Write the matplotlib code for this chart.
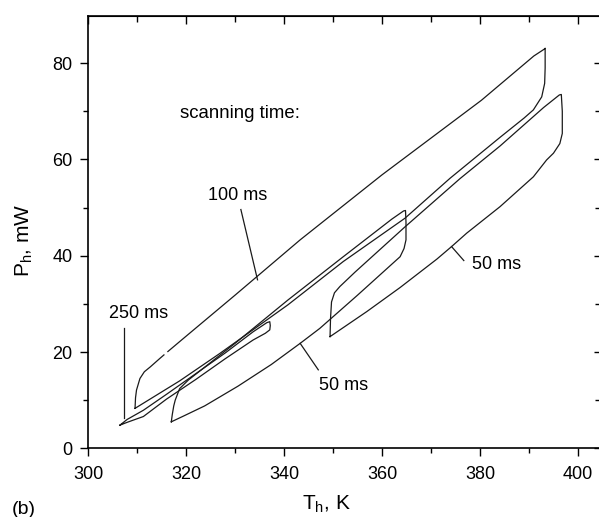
import numpy as np
import matplotlib
matplotlib.use("Agg")
import matplotlib.pyplot as plt
from matplotlib.ticker import MultipleLocator

nan = np.nan

# 100 ms loop (gap in the heating branch as in the original)
a_T = [309.6, 309.7, 309.9, 310.6, 311.5, 312.7, 314.7, 315.5, nan, 316.3, 319.1, 330.0, 343.3,
       360.0, 380.3, 391.0, 393.1, 393.3, 393.3, 393.2, 392.6, 390.9, 389.0, 384.1, 373.9,
       364.7, 352.1, 340.8, 326.9, 318.7, 309.6]
a_P = [8.3, 10.5, 12.1, 14.5, 15.9, 16.9, 18.7, 19.4, nan, 20.1, 22.5, 31.8, 43.3,
       56.8, 72.3, 81.5, 82.9, 83.1, 79.0, 75.8, 73.0, 70.3, 68.6, 64.6, 56.1,
       47.8, 38.8, 29.8, 19.7, 14.0, 8.3]

# 250 ms loop
b_T = [306.5, 308.0, 311.3, 316.0, 322.0, 328.0, 333.7, 336.5, 337.1, 337.2, 337.1, 336.2,
       333.7, 328.0, 322.0, 316.0, 311.3, 308.0, 306.5]
b_P = [4.8, 6.0, 7.9, 11.2, 15.5, 19.8, 24.2, 26.1, 26.3, 25.5, 24.6, 23.9,
       22.5, 18.6, 14.3, 10.2, 6.6, 5.4, 4.8]

# 50 ms loop, lower
c_T = [317.0, 317.2, 317.5, 317.8, 318.7, 320.5, 330.0, 340.8, 352.1, 362.0, 364.4, 364.8,
       364.9, 364.9, 364.5, 363.7, 355.0, 347.3, 343.3, 337.4, 330.6, 323.8, 319.5, 317.0]
c_P = [5.5, 7.0, 8.8, 10.0, 12.4, 14.2, 21.8, 30.8, 39.8, 47.6, 49.3, 49.4,
       47.0, 43.3, 41.5, 39.8, 31.8, 24.9, 21.8, 17.4, 12.9, 8.8, 6.7, 5.5]

# 50 ms loop, right
d_T = [349.4, 349.5, 349.7, 350.3, 351.4, 354.5, 364.7, 375.9, 384.1, 393.0, 396.2, 396.6,
       396.8, 396.8, 396.3, 395.0, 393.6, 390.9, 384.1, 377.3, 374.2, 371.2, 363.7, 356.9, 349.4]
d_P = [23.2, 27.0, 30.4, 32.3, 33.6, 36.6, 46.0, 56.0, 62.8, 70.8, 73.4, 73.5,
       70.0, 65.4, 63.3, 61.3, 59.9, 56.4, 50.2, 44.7, 41.9, 39.3, 33.4, 28.4, 23.2]

# labels and their pointer lines
labels = ["100 ms", "250 ms", "50 ms", "50 ms"]
label_T = [330.5, 310.4, 352.2, 383.4]
label_P = [52.6, 28.1, 13.0, 38.1]
pointer_T = [(331.2, 334.6), (307.3, 307.3), (347.0, 343.3), (376.7, 374.2)]
pointer_P = [(49.6, 35.0), (25.0, 6.3), (16.3, 21.8), (39.0, 41.9)]

plt.rcParams["font.family"] = ["Liberation Sans", "DejaVu Sans"]
plt.rcParams["font.size"] = 12

fig = plt.figure(figsize=(5.99, 5.17), dpi=100)
ax = fig.add_axes([88 / 599, 1 - 448.3 / 517, (601 - 88) / 599, (448.3 - 16) / 517])

line_kw = dict(color="#1a1a1a", lw=0.9)
for T, P in [(a_T, a_P), (b_T, b_P), (c_T, c_P), (d_T, d_P)]:
    ax.plot(T, P, **line_kw)

for txt, tx, ty, pt, pp in zip(labels, label_T, label_P, pointer_T, pointer_P):
    ax.plot(pt, pp, **line_kw)
    ax.text(tx, ty, txt, ha="center", va="center", fontsize=13)

ax.text(318.8, 69.6, "scanning time:", ha="left", va="center", fontsize=13.4)

ax.set_xlim(300, 404.7)
ax.set_ylim(0, 89.8)

for s in ax.spines.values():
    s.set_linewidth(1.2)

ax.xaxis.set_major_locator(MultipleLocator(20))
ax.xaxis.set_minor_locator(MultipleLocator(10))
ax.yaxis.set_major_locator(MultipleLocator(20))
ax.yaxis.set_minor_locator(MultipleLocator(10))
ax.tick_params(which="major", direction="out", length=6, width=1.0, labelsize=13)
ax.tick_params(which="minor", direction="out", length=3.5, width=1.0)
ax.tick_params(axis="x", which="major", pad=6.5)
ax.tick_params(axis="y", which="major", pad=5)

top = ax.secondary_xaxis("top")
top.xaxis.set_major_locator(MultipleLocator(20))
top.xaxis.set_minor_locator(MultipleLocator(10))
top.tick_params(which="major", direction="in", length=6, width=1.0, labeltop=False)
top.tick_params(which="minor", direction="in", length=4, width=1.0)

right = ax.secondary_yaxis("right")
right.yaxis.set_major_locator(MultipleLocator(20))
right.yaxis.set_minor_locator(MultipleLocator(10))
right.tick_params(which="major", direction="in", length=5, width=1.0, labelright=False)
right.tick_params(which="minor", direction="in", length=4, width=1.0)

ax.set_xlabel("T$_\\mathregular{h}$, K", fontsize=15)
ax.xaxis.set_label_coords((326.5 - 88) / (601 - 88), -0.105)
ax.set_ylabel("P$_\\mathregular{h}$, mW", fontsize=15)
ax.yaxis.set_label_coords(-0.103, 0.482)

fig.text(0.02, 0.03, "(b)", ha="left", va="top", fontsize=14)

fig.savefig("out.png", dpi=100)
